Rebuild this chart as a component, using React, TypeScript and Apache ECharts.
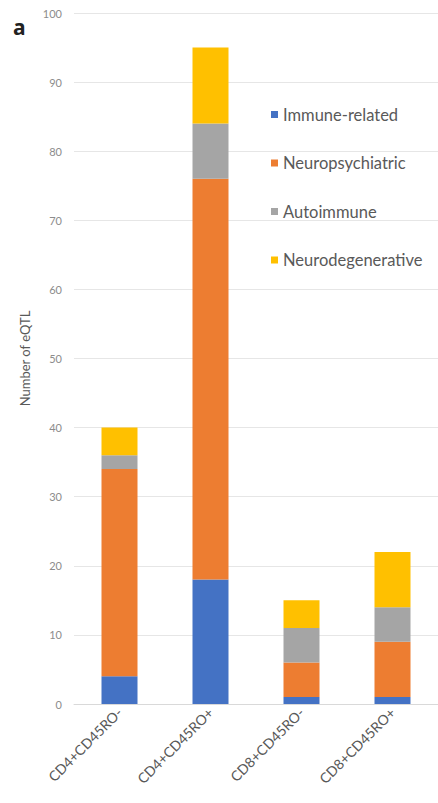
import React, { useEffect, useRef } from "react";
import * as echarts from "echarts";

const categories = ["CD4+CD45RO-", "CD4+CD45RO+", "CD8+CD45RO-", "CD8+CD45RO+"];
const immuneRelated = [4, 18, 1, 1];
const neuropsychiatric = [30, 58, 5, 8];
const autoimmune = [2, 8, 5, 5];
const neurodegenerative = [4, 11, 4, 8];
const seriesNames = ["Immune-related", "Neuropsychiatric", "Autoimmune", "Neurodegenerative"];
const colors = ["#4472C4", "#ED7D31", "#A5A5A5", "#FFC000"];

export default function App() {
  const ref = useRef<HTMLDivElement>(null);
  useEffect(() => {
    if (!ref.current) return;
    const chart = echarts.init(ref.current, undefined, { renderer: "svg" });
    const data = [immuneRelated, neuropsychiatric, autoimmune, neurodegenerative];
    chart.setOption({
      animation: false,
      textStyle: { fontFamily: "Lato" },
      title: {
        text: "a",
        left: 13,
        top: 16,
        padding: 0,
        textStyle: {
          fontFamily: "Noto Sans",
          fontWeight: "bold",
          fontSize: 21,
          color: "#222",
        },
      },
      grid: { left: 74, right: 0, top: 13, bottom: 99, containLabel: false },
      legend: {
        orient: "vertical",
        left: 266,
        top: 101,
        itemWidth: 7,
        itemHeight: 7,
        itemGap: 31.5,
        icon: "rect",
        textStyle: { color: "#595959", fontSize: 16.5, fontFamily: "Lato" },
        data: seriesNames,
      },
      xAxis: {
        type: "category",
        data: categories,
        axisLine: { show: true, lineStyle: { color: "#d9d9d9" } },
        axisTick: { show: false },
        axisLabel: {
          rotate: 45,
          color: "#595959",
          fontSize: 14,
          margin: 6,
          interval: 0,
        },
      },
      yAxis: {
        type: "value",
        min: 0,
        max: 100,
        interval: 10,
        name: "Number of eQTL",
        nameLocation: "middle",
        nameGap: 36,
        nameTextStyle: { color: "#595959", fontSize: 13 },
        axisLine: { show: false },
        axisTick: { show: false },
        axisLabel: { color: "#8c8c8c", fontSize: 11, margin: 12 },
        splitLine: { lineStyle: { color: "#e6e6e6" } },
      },
      series: seriesNames.map((name, i) => ({
        name,
        type: "bar",
        stack: "total",
        barWidth: 36,
        itemStyle: { color: colors[i] },
        data: data[i],
      })),
    });
    return () => chart.dispose();
  }, []);
  return (
    <div
      ref={ref}
      style={{ position: "fixed", left: 0, top: 0, width: 438, height: 803, background: "#fff" }}
    />
  );
}
